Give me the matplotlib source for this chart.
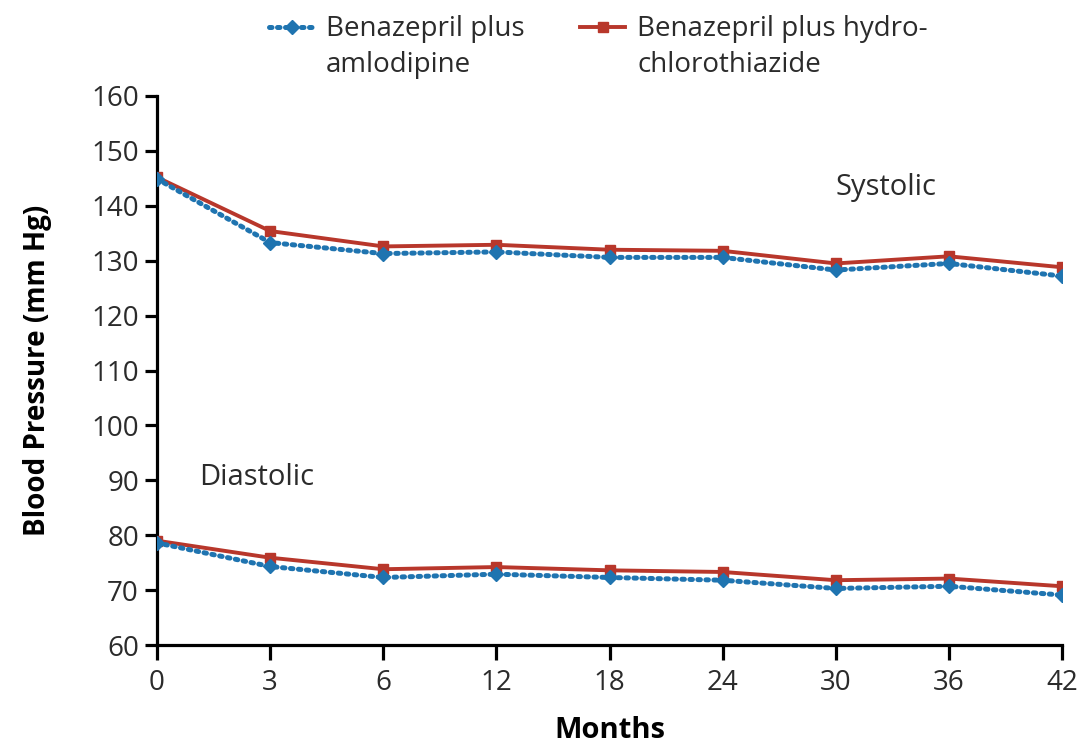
import matplotlib
matplotlib.use("Agg")
import matplotlib.pyplot as plt

months = ["0", "3", "6", "12", "18", "24", "30", "36", "42"]
amlo_sys = [144.9, 133.3, 131.3, 131.6, 130.6, 130.6, 128.3, 129.5, 127.2]
hctz_sys = [145.2, 135.4, 132.6, 132.9, 132.0, 131.8, 129.5, 130.8, 128.8]
amlo_dia = [78.6, 74.3, 72.3, 72.9, 72.3, 71.8, 70.3, 70.7, 69.1]
hctz_dia = [79.0, 75.9, 73.8, 74.2, 73.6, 73.3, 71.8, 72.1, 70.7]
label_amlo = ["Benazepril plus", "amlodipine"]
label_hctz = ["Benazepril plus hydro-", "chlorothiazide"]
yticks = [60, 70, 80, 90, 100, 110, 120, 130, 140, 150, 160]

RED = "#B8372B"
BLUE = "#1F74B0"
TXT = "#2b2b2b"
FONT = ["Open Sans", "DejaVu Sans"]
plt.rcParams["font.family"] = FONT
FS = 20

fig = plt.figure(figsize=(10.81, 7.48), dpi=100)
ax = fig.add_axes([157/1081, 103/748, 905/1081, 549/748])

xs = list(range(len(months)))
rk = dict(color=RED, lw=2.8, marker="s", markersize=7.5, zorder=3)
bk = dict(color=BLUE, lw=3.6, ls=(0, (0.5, 1.1)), dash_capstyle="round",
          marker="D", markersize=7, zorder=4)
l2, = ax.plot(xs, hctz_sys, **rk)
ax.plot(xs, hctz_dia, **rk)
l1, = ax.plot(xs, amlo_sys, **bk)
ax.plot(xs, amlo_dia, **bk)

ax.set_xlim(0, len(months) - 1)
ax.set_ylim(60, 160)
ax.set_xticks(xs)
ax.set_xticklabels(months)
ax.set_yticks(yticks)
for s in ["top", "right"]:
    ax.spines[s].set_visible(False)
for s in ["left", "bottom"]:
    ax.spines[s].set_linewidth(2.3)
    ax.spines[s].set_color("black")
ax.tick_params(axis="y", direction="out", width=2.3, length=9,
               labelsize=FS, colors="black", labelcolor=TXT, pad=4)
ax.tick_params(axis="x", direction="out", width=2.3, length=11,
               labelsize=FS, colors="black", labelcolor=TXT, pad=6)
for lab in ax.get_xticklabels() + ax.get_yticklabels():
    lab.set_clip_on(False)

ax.set_ylabel("Blood Pressure (mm Hg)", fontsize=20, fontweight="bold",
              labelpad=28, color="black")
ax.set_xlabel("Months", fontsize=21, fontweight="bold", labelpad=14, color="black")

ax.text(6.0, 143.3, "Systolic", fontsize=21, color=TXT, ha="left", va="center")
ax.text(0.37, 90.5, "Diastolic", fontsize=21, color=TXT, ha="left", va="center")

leg = fig.legend(handles=[l1, l2], labels=[label_amlo[0], label_hctz[0]], ncol=2,
                 frameon=False, loc="upper left", bbox_to_anchor=(254/1081, 1.0),
                 fontsize=FS, handlelength=1.6, handletextpad=0.45,
                 columnspacing=2.0, borderaxespad=0.15)
for t in leg.get_texts():
    t.set_color(TXT)

fig.canvas.draw()
inv = fig.transFigure.inverted()
for t, second in zip(leg.get_texts(), [label_amlo[1], label_hctz[1]]):
    bb = t.get_window_extent()
    x0, y0 = inv.transform((bb.x0, bb.y0 - 36 + (bb.y1 - bb.y0)))
    fig.text(x0, y0, second, fontsize=FS, color=TXT, ha="left", va="top")

fig.savefig("out.png", dpi=100)
